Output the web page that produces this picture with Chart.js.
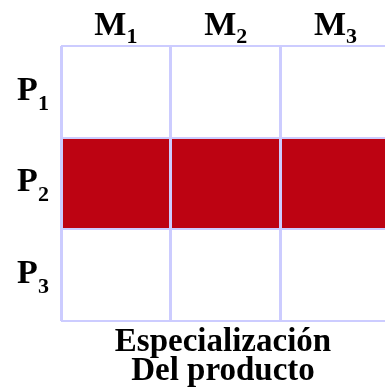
<!DOCTYPE html>
<html>
<head>
<meta charset="utf-8">
<script src="https://cdn.jsdelivr.net/npm/chart.js@4.4.1/dist/chart.umd.min.js"></script>
<style>
body{margin:0;background:#fff;}
#caja{width:385px;height:388px;}
</style>
</head>
<body>
<div id="caja"><canvas id="matriz"></canvas></div>
<script>
// filas (productos) y columnas (mercados) de la matriz
var productos = ["P1", "P2", "P3"];
var mercados = ["M1", "M2", "M3"];
// 1 = celda cubierta por la estrategia, 0 = vacia
var ocupado = [0, 1, 0];
var titulo = ["Especialización", "Del producto"];

var lila = "#ccccff";
var rojo = "#bd0312";
var fuente = "'Liberation Serif', 'Times New Roman', serif";

// escribe la letra grande y el numero como subindice
function escribir(ctx, txt, x, y, baja){
    var letra = txt.charAt(0), num = txt.slice(1);
    ctx.font = "bold 34px " + fuente;
    var w1 = ctx.measureText(letra).width;
    ctx.font = "bold 22px " + fuente;
    var w2 = ctx.measureText(num).width;
    var x0 = x - (w1 + w2) / 2;
    ctx.textAlign = "left";
    ctx.font = "bold 34px " + fuente;
    ctx.fillText(letra, x0, y);
    ctx.font = "bold 22px " + fuente;
    ctx.fillText(num, x0 + w1, y + baja);
}

var etiquetas = {
    id: "etiquetas",
    afterDraw: function(chart){
        var ctx = chart.ctx;
        var xs = chart.scales.x, ys = chart.scales.y, area = chart.chartArea;
        ctx.save();
        ctx.fillStyle = "#000";
        ctx.textBaseline = "alphabetic";
        mercados.forEach(function(m, i){
            escribir(ctx, m, xs.getPixelForValue(i + 0.5), area.top - 11, 8);
        });
        productos.forEach(function(p, i){
            escribir(ctx, p, area.left - 28, ys.getPixelForValue(i) + 8, 10);
        });
        ctx.restore();
    }
};

// una serie por columna, apiladas
var series = mercados.map(function(m){
    return {
        label: m,
        data: ocupado.map(function(v){ return v || null; }),
        backgroundColor: rojo,
        borderWidth: 0,
        inflateAmount: 0,
        barPercentage: 1,
        categoryPercentage: 1
    };
});

new Chart(document.getElementById("matriz"), {
    type: "bar",
    data: { labels: productos, datasets: series },
    plugins: [etiquetas],
    options: {
        indexAxis: "y",
        responsive: true,
        maintainAspectRatio: false,
        animation: false,
        layout: { padding: { left: 61, top: 46, right: 0, bottom: 0 } },
        plugins: { legend: { display: false }, tooltip: { enabled: false } },
        scales: {
            x: {
                type: "linear",
                stacked: true,
                min: 0,
                max: 2.95,
                ticks: { display: false, stepSize: 1, includeBounds: false },
                grid: { color: lila, lineWidth: 3, drawTicks: false, z: 1 },
                border: { display: false },
                title: {
                    display: true,
                    text: titulo,
                    color: "#000",
                    font: { family: fuente, size: 33, weight: "bold", lineHeight: 0.85 },
                    padding: { top: 8, bottom: 3 }
                }
            },
            y: {
                stacked: true,
                ticks: { display: false },
                grid: { color: lila, lineWidth: 2, offset: true, drawTicks: false, z: 1 },
                border: { display: false }
            }
        }
    }
});
</script>
</body>
</html>
